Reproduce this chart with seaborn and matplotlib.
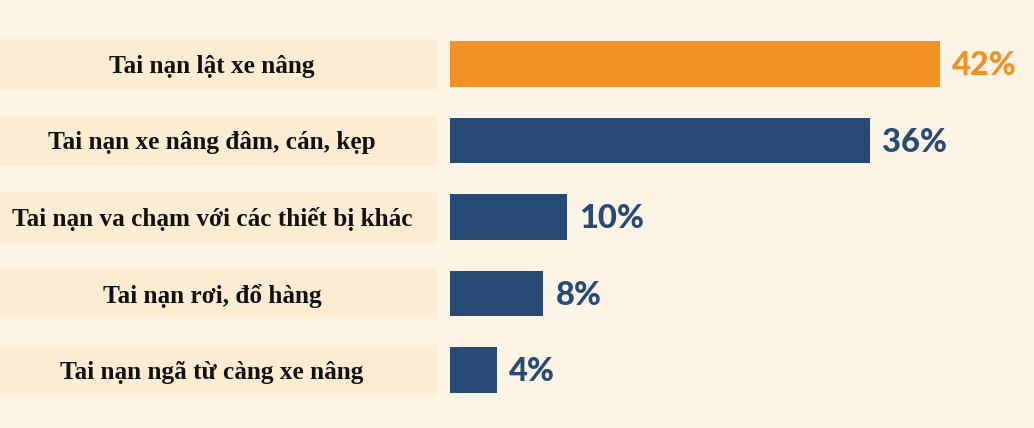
import matplotlib
matplotlib.use("Agg")
import matplotlib.pyplot as plt
import seaborn as sns
import pandas as pd

categories = [
    "Tai nạn lật xe nâng",
    "Tai nạn xe nâng đâm, cán, kẹp",
    "Tai nạn va chạm với các thiết bị khác",
    "Tai nạn rơi, đổ hàng",
    "Tai nạn ngã từ càng xe nâng",
]
values = [42, 36, 10, 8, 4]
value_labels = ["42%", "36%", "10%", "8%", "4%"]

BG = "#FDF4E5"
PANEL = "#FCEDD2"
ORANGE = "#F39224"
NAVY = "#264A74"
colors = [ORANGE, NAVY, NAVY, NAVY, NAVY]

df = pd.DataFrame({"cat": categories, "val": values})

sns.set_theme(style="white")
fig = plt.figure(figsize=(10.34, 4.28), dpi=100)
fig.patch.set_facecolor(BG)
ax = fig.add_axes([0, 0, 1, 1])
ax.set_facecolor(BG)

# left label panels (drawn behind as bars in data units)
panel_left = -40.0
panel_right = -1.1
pos = list(range(len(categories)))
for k, a in [(0.70, 0.35), (0.64, 1.0)]:
    ax.barh(pos, [panel_right - panel_left] * len(pos), left=panel_left,
            height=k, color=PANEL, alpha=a, linewidth=0, zorder=0)

sns.barplot(data=df, x="val", y="cat", hue="cat", palette=colors, legend=False,
            orient="h", width=0.59, ax=ax, zorder=2, linewidth=0, saturation=1)

for i, (c, v, lab, col) in enumerate(zip(categories, values, value_labels, colors)):
    ax.text(-20.4, i + 0.03, c, ha="center", va="center", fontsize=18.2,
            fontweight="bold", family=["Liberation Serif", "DejaVu Serif"],
            color="#111111", zorder=3)
    ax.text(v + 1.05, i + 0.02, lab, ha="left", va="center", fontsize=23.5,
            fontweight="black", family=["Lato", "DejaVu Sans"], color=col, zorder=3)

ax.set_xlim(-38.57, 50.06)
ax.set_ylim(4.758, -0.837)
ax.set_xlabel("")
ax.set_ylabel("")
ax.set_xticks([])
ax.set_yticks([])
for s in ax.spines.values():
    s.set_visible(False)

fig.savefig("out.png", dpi=100, facecolor=BG)
